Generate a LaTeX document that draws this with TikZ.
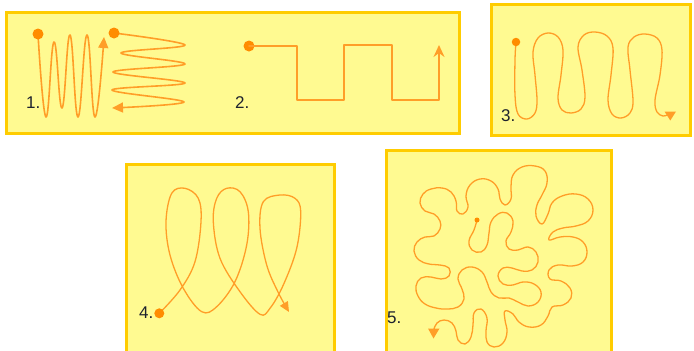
\documentclass[tikz,border=0pt]{standalone}
\usepackage{fontspec}
\setmainfont{Liberation Sans}
\usetikzlibrary{arrows.meta}
\definecolor{panelfill}{RGB}{255,250,145}
\definecolor{panelborder}{RGB}{255,204,0}
\definecolor{pathcol}{RGB}{255,158,40}
\definecolor{dotcol}{RGB}{255,140,0}
\definecolor{labelcol}{RGB}{30,34,46}
\begin{document}
\begin{tikzpicture}[x=1pt,y=-1pt,
  panel/.style={draw=panelborder,fill=panelfill,line width=3pt},
  trail/.style={draw=pathcol,line width=1.6pt,line cap=round,line join=round},
  thintrail/.style={draw=pathcol,line width=1.3pt,line cap=round,line join=round},
  startdot/.style={circle,fill=dotcol,inner sep=0pt,minimum size=#1},
  tipfill/.style={fill=pathcol},
  numlabel/.style={font=\fontsize{17}{17}\selectfont,text=labelcol,inner sep=0pt,anchor=base west}]
\useasboundingbox (0,0) rectangle (694,351);
\clip (0,0) rectangle (694,351);
\fill[white] (0,0) rectangle (694,351);

% panels
\draw[panel] (6,12) rectangle (459.5,133);
\draw[panel] (491,4.7) rectangle (690,135.5);
\draw[panel] (126,164.5) rectangle (334.5,365);
\draw[panel] (386,150) rectangle (611,365);

% ---------- panel 1 ----------
\draw[trail,-{Triangle[length=11pt,width=10pt]}] plot[smooth,tension=0.75] coordinates
  {(38,34) (46,117) (54,42) (62,108) (70,35) (78,117) (87,35) (95,117) (104,37)};
\draw[trail,-{Triangle[length=11pt,width=10pt]}] plot[smooth,tension=0.6] coordinates
  {(114,33) (185,45) (121,53) (185,64) (113,72) (185,83) (112,90) (184,102) (112,108)};
\node[startdot=11pt] (d1a) at (38,34) {};
\node[startdot=11pt] (d1b) at (114,33) {};
\node[numlabel] (l1) at (26,108) {1.};

% ---------- panel 2 ----------
\node[startdot=11pt] (d2) at (249,46) {};
\coordinate (e2) at (439,45);
\draw[trail,-{Stealth[length=12pt,width=11pt,inset=4pt]}] (d2.center) -- (297,46) -- (297,100) -- (344,100)
  -- (344,45) -- (392,45) -- (392,100) -- (439,100) -- (e2);
\node[numlabel] (l2) at (235,108) {2.};

% ---------- panel 3 ----------
\draw[thintrail] plot[smooth,tension=0.6] coordinates
  {(516,42) (515,60) (515,95) (518,114) (527,119) (535,113) (537,100) (535,75) (533,52)
   (538,38) (548,33) (558,37) (563,50) (561,75) (558,98) (562,110) (571,113) (581,109)
   (585,97) (582,70) (578,47) (584,35) (595,32) (607,36) (613,48) (611,75) (608,100)
   (612,114) (621,118) (630,113) (633,101) (630,70) (628,47) (634,37) (645,34) (657,38)
   (662,50) (660,75) (655,100) (657,112) (663,116) (667,115)};
\fill[tipfill] (664.5,111.5) -- (676,111.5) -- (670.3,120.5) -- cycle;
\node[startdot=8.5pt] (d3) at (516,42) {};
\node[numlabel] (l3) at (501,121) {3.};

% ---------- panel 4 ----------
\draw[thintrail,-{Triangle[length=10pt,width=9pt]}] plot[smooth,tension=0.6] coordinates
  {(159.3,313.3) (180,290) (195,261.7) (201,221.7) (198.3,198.3) (185,188.3) (171.7,193.3)
   (166,221.7) (170,255) (183.3,288.3) (201.7,311.7) (216.7,306.7) (235,281.7) (246.7,245)
   (248.3,211.7) (240,191.7) (226.7,188.3) (216.7,198.3) (213.3,221.7) (220,258.3)
   (240,291.7) (260,314.3) (270,308.3) (283.3,285) (296.7,248.3) (300.7,211.7) (295,198.3)
   (280,195) (263.3,201.7) (260,228.3) (266.7,265) (278,292) (289,312)};
\node[startdot=10pt] (d4) at (159.3,313.3) {};
\node[numlabel] (l4) at (139,318.5) {4.};

% ---------- panel 5 ----------
\draw[thintrail] plot[smooth,tension=0.7] coordinates
  {(477,220) (474,230) (469,241) (472,250) (481,252) (487,245) (489,233) (491,222) (498,214)
   (507,213) (513,221) (511,232) (506,241) (509,249) (518,250) (528,247) (536,252) (538,262)
   (532,270) (522,271) (512,268) (503,268) (498,276) (503,284) (513,285) (523,282) (534,284)
   (541,292) (538,302) (528,306) (518,302) (509,298) (499,298) (491,292) (487,282) (482,272)
   (472,267) (462,270) (458,279) (462,289) (464,299) (458,307) (447,309) (436,308) (425,304)
   (418,296) (416,286) (421,278) (431,277) (441,279) (449,276) (449,268) (440,265) (429,264)
   (419,260) (414,251) (417,242) (425,237) (434,236) (440,229) (440,221) (434,214) (425,211)
   (420,203) (423,194) (431,189) (442,188) (451,192) (456,201) (457,211) (463,214) (468,207)
   (466,196) (470,185) (480,179) (491,181) (498,189) (500,199) (505,205) (511,199) (511,187)
   (513,175) (522,167) (535,166) (545,171) (547,183) (542,195) (537,205) (536,216) (542,224)
   (548,214) (552,203) (562,196) (576,194) (588,199) (593,210) (588,221) (576,226) (563,228)
   (553,232) (549,240) (560,237) (573,237) (583,242) (587,252) (583,262) (572,266) (558,265)
   (549,270) (550,279) (561,281) (570,288) (571,298) (563,305) (552,307) (548,316) (541,325)
   (529,327) (519,322) (513,314) (505,311) (505,320) (507,332) (503,343) (494,347) (487,342)
   (486,331) (487,318) (481,309) (474,313) (473,325) (471,337) (465,344) (458,340) (456,331)
   (452,323) (444,320) (437,323) (434,329)};
\fill[tipfill] (428,328.5) -- (439.5,328.5) -- (433.5,338.5) -- cycle;
\node[startdot=5pt] (d5) at (477,220) {};
\node[numlabel] (l5) at (387,323) {5.};
\end{tikzpicture}
\end{document}
